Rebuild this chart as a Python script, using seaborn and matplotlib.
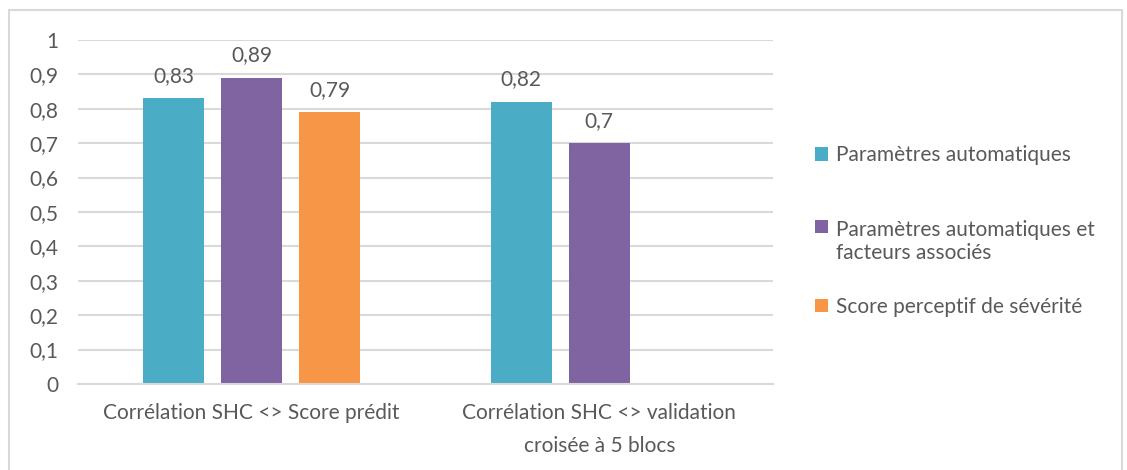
import numpy as np
import pandas as pd
import matplotlib.pyplot as plt
import matplotlib.patches as mpatches
import seaborn as sns

categories = ['Corrélation SHC <> Score prédit',
              'Corrélation SHC <> validation\ncroisée à 5 blocs']
series = ['Paramètres automatiques',
          'Paramètres automatiques et\nfacteurs associés',
          'Score perceptif de sévérité']
auto = [0.83, 0.82]
auto_facteurs = [0.89, 0.70]
perceptif = [0.79, np.nan]
colors = ['#4BACC6', '#8064A2', '#F79646']
yticks = [0, 0.1, 0.2, 0.3, 0.4, 0.5, 0.6, 0.7, 0.8, 0.9, 1]

df = pd.DataFrame({
    'categorie': categories * 3,
    'serie': [series[0]] * 2 + [series[1]] * 2 + [series[2]] * 2,
    'valeur': auto + auto_facteurs + perceptif,
})

sns.set_style('white')
plt.rcParams['font.family'] = ['Lato', 'DejaVu Sans']
text_color = '#595959'
grid_color = '#D9D9D9'
fs = 15


def fr(v):
    return f'{v:g}'.replace('.', ',')


fig = plt.figure(figsize=(11.27, 4.70), dpi=100)
ax = fig.add_axes([0.0692, 0.183, 0.6167, 0.732])

sns.barplot(data=df, x='categorie', y='valeur', hue='serie', order=categories,
            hue_order=series, palette=colors, saturation=1, width=0.673, gap=0.22,
            linewidth=0, ax=ax)

for cont in ax.containers:
    ax.bar_label(cont, fmt=fr, padding=9, fontsize=fs, color=text_color)

ax.set_ylim(0, 1)
ax.set_xlim(-0.5, 1.5)
ax.set_yticks(yticks)
ax.set_yticklabels([fr(t) for t in yticks])
ax.yaxis.grid(True, color=grid_color, linewidth=1.5)
ax.set_axisbelow(True)
ax.tick_params(axis='y', length=0, pad=14, labelsize=fs, labelcolor=text_color)
ax.tick_params(axis='x', length=0, pad=14, labelsize=fs, labelcolor=text_color)
for lab in ax.get_xticklabels():
    lab.set_linespacing(1.8)
ax.set_xlabel('')
ax.set_ylabel('')
for side in ['top', 'right', 'left']:
    ax.spines[side].set_visible(False)
ax.spines['bottom'].set_color(grid_color)
ax.spines['bottom'].set_linewidth(1.5)

# one legend per entry, Excel spaces them unevenly
handles, labels = ax.get_legend_handles_labels()
ax.get_legend().remove()
legend_y = [0.670, 0.486, 0.347]
for h, l, y in zip(handles, labels, legend_y):
    leg = fig.legend([h], [l], loc='center left', bbox_to_anchor=(0.7232, y),
                     frameon=False, fontsize=fs, labelcolor=text_color,
                     handlelength=0.62, handleheight=0.62, handletextpad=0.4,
                     borderpad=0, borderaxespad=0)
    for t in leg.get_texts():
        t.set_linespacing(1.2)
    # square on the first line of a two-line label, like Excel
    if '\n' in l:
        for col in leg._legend_handle_box.get_children():
            for row in col.get_children():
                row.align = 'top'

fig.patches.append(mpatches.Rectangle((9 / 1127, -0.05), 1113 / 1127, 1.05 - 10 / 470,
                                      transform=fig.transFigure, fill=False,
                                      edgecolor=grid_color, linewidth=1.5))

plt.savefig('out.png', dpi=100)
